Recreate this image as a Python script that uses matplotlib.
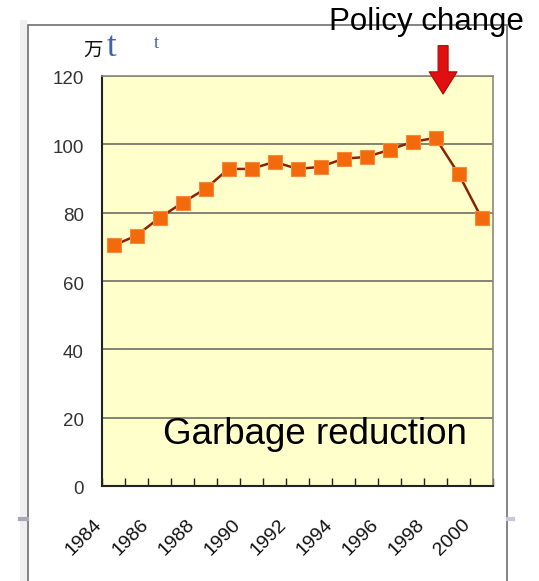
import matplotlib.pyplot as plt
import matplotlib.transforms as mtransforms
from matplotlib.patches import Rectangle
import numpy as np

plt.rcParams['font.family'] = ['Liberation Sans', 'Noto Sans CJK JP', 'DejaVu Sans']

years = [1984, 1985, 1986, 1987, 1988, 1989, 1990, 1991, 1992,
         1993, 1994, 1995, 1996, 1997, 1998, 1999, 2000]
garbage = [70.4, 73.3, 78.5, 82.9, 87.0, 92.8, 92.8, 94.9, 92.8,
           93.4, 95.8, 96.3, 98.4, 100.7, 101.9, 91.4, 78.5]
year_labels = [str(y) for y in years[::2]]
y_ticks = [0, 20, 40, 60, 80, 100, 120]

W, H = 539, 581
fig = plt.figure(figsize=(W / 100, H / 100), dpi=100)
fig.patch.set_facecolor('white')

# outer chart frame
fig.patches.append(Rectangle((20 / W, -0.1), 7 / W, 1.1 - 20 / H, transform=fig.transFigure,
                             facecolor='#efefef', edgecolor='none', zorder=0))
fig.patches.append(Rectangle((28 / W, -0.1), (507 - 28) / W, 1.1 - 25 / H, transform=fig.transFigure,
                             facecolor='white', edgecolor='#7a7a7a', lw=1.3, zorder=1))
fig.lines.append(plt.Line2D([20 / W, 27 / W], [1 - 519 / H] * 2, transform=fig.transFigure,
                            color='#a8a8b8', lw=3, zorder=2))
fig.lines.append(plt.Line2D([508 / W, 513 / W], [1 - 519 / H] * 2, transform=fig.transFigure,
                            color='#c8c8d8', lw=3, zorder=2))

ax = fig.add_axes([102 / W, 1 - 486 / H, (493 - 102) / W, (486 - 76) / H])
ax.set_zorder(3)
ax.set_facecolor('#ffffcc')

x = np.arange(len(years))
ax.set_xlim(-0.5, len(years) - 0.5)
ax.set_ylim(0, 120)

for v in y_ticks[1:]:
    ax.axhline(v, color='#6e6e66', lw=1.2, zorder=1)

ax.plot(x, garbage, color='#8c2204', lw=1.8, marker='s', markersize=10.5,
        markerfacecolor='#f26a0c', markeredgecolor='#f58a3a', markeredgewidth=0.8, zorder=3)

ax.set_yticks(y_ticks)
ax.tick_params(axis='y', length=0, pad=13, labelsize=13.5, labelcolor='#333333')
ydown = mtransforms.ScaledTranslation(0, -2 / 100, fig.dpi_scale_trans)
for lab in ax.get_yticklabels():
    lab.set_transform(lab.get_transform() + ydown)

ax.set_xticks(x[::2], labels=year_labels)
ax.set_xticks(np.arange(-0.5, len(years)), minor=True)
ax.tick_params(axis='x', which='major', length=0, labelsize=14, labelcolor='#111111')
ax.tick_params(axis='x', which='minor', direction='in', length=6, width=1, color='#222222')
shift = mtransforms.ScaledTranslation(-14 / 100, -31 / 100, fig.dpi_scale_trans)
for lab in ax.get_xticklabels():
    lab.set_rotation(45)
    lab.set_ha('right')
    lab.set_va('center')
    lab.set_rotation_mode('anchor')
    lab.set_transform(lab.get_transform() + shift)

for side in ['left', 'bottom']:
    ax.spines[side].set_color('#222222')
    ax.spines[side].set_linewidth(1.5)
for side in ['top', 'right']:
    ax.spines[side].set_color('#8a8a80')
    ax.spines[side].set_linewidth(1.2)

# unit label
fig.text(83 / W, 1 - 50 / H, '万', fontsize=14, color='#111111', va='center', ha='left',
         family=['Noto Sans CJK JP'])
fig.text(107 / W, 1 - 47 / H, 't', fontsize=25, color='#3f63a8', va='center', ha='left',
         family=['Liberation Serif'])
fig.text(154 / W, 1 - 44 / H, 't', fontsize=13, color='#3f63a8', va='center', ha='left',
         family=['Liberation Serif'])

ax.text(0.545, 0.125, 'Garbage reduction', transform=ax.transAxes, fontsize=26.5,
        color='black', ha='center', va='center', zorder=4)

fig.text(426 / W, 1 - 22 / H, 'Policy change', fontsize=22.5, color='black',
         ha='center', va='center', zorder=5)

ax.annotate('', xy=(14.33, 113.9), xytext=(14.33, 129.7), annotation_clip=False,
            arrowprops=dict(arrowstyle='simple,head_length=1.6,head_width=2.0,tail_width=0.72',
                            facecolor='#e01010', edgecolor='#b00808', lw=0.8))

fig.savefig('out.png', dpi=100)
